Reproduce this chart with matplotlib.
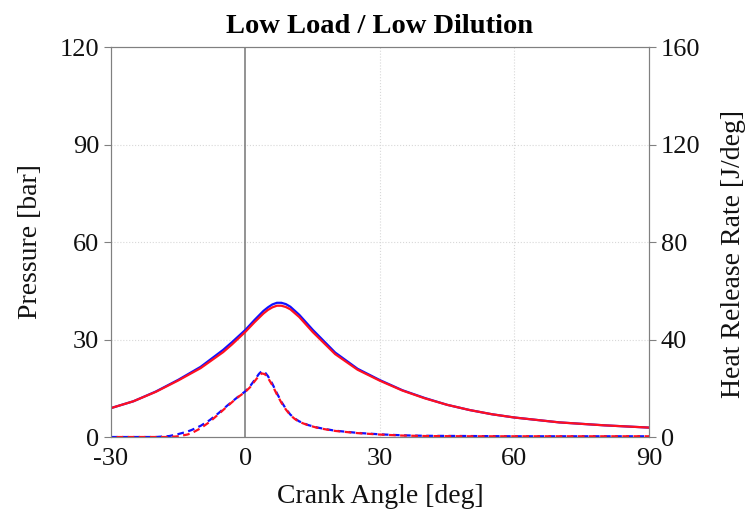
import matplotlib.pyplot as plt

# crank angle grid for pressure traces
ca_p = [-30, -25, -20, -15, -10, -5, -3, 0, 2, 4, 5, 6, 7, 8, 9, 10, 12, 15, 20, 25, 30, 35, 40, 45, 50, 55, 60, 70, 80, 90]
p_blue = [8.9, 11.0, 14.0, 17.6, 21.6, 26.8, 29.2, 33.0, 36.0, 38.8, 39.9, 40.8, 41.3, 41.3, 40.9, 40.1, 37.6, 33.0, 26.0, 21.0, 17.5, 14.4, 12.0, 9.9, 8.3, 7.0, 6.0, 4.5, 3.6, 2.9]
p_red = [8.9, 11.0, 13.9, 17.4, 21.2, 26.1, 28.5, 32.4, 35.3, 38.0, 39.1, 39.9, 40.4, 40.4, 40.0, 39.3, 36.9, 32.3, 25.5, 20.7, 17.3, 14.3, 11.9, 9.9, 8.3, 7.0, 6.0, 4.5, 3.6, 2.9]

# crank angle grid for heat release rate
ca_h = [-30, -20, -17, -15, -13, -12, -10, -8, -6, -4, -2, 0, 1, 2, 3, 3.6, 4.3, 5, 6, 7, 8, 9, 10, 11, 12, 14, 16, 18, 20, 25, 30, 35, 40, 50, 60, 70, 80, 90]
hrr_blue = [0, 0, 0.4, 1.2, 2.2, 2.9, 4.6, 6.9, 9.8, 13.0, 16.0, 18.8, 20.8, 23.3, 25.9, 27.0, 26.6, 25.0, 21.8, 18.0, 14.5, 11.6, 9.2, 7.6, 6.4, 4.9, 3.9, 3.2, 2.6, 1.7, 1.1, 0.7, 0.5, 0.4, 0.3, 0.3, 0.3, 0.3]
hrr_red = [0, 0, 0, 0.3, 1.0, 1.6, 3.6, 6.2, 9.4, 12.7, 15.9, 18.6, 20.4, 22.8, 25.1, 26.1, 25.8, 24.3, 21.2, 17.5, 14.1, 11.3, 9.0, 7.4, 6.2, 4.8, 3.8, 3.1, 2.5, 1.6, 1.0, 0.6, 0.4, 0.3, 0.3, 0.3, 0.3, 0.3]

xticks = [-30, 0, 30, 60, 90]
xticklabels = ['-30', '0', '30', '60', '90']

plt.rcParams['font.family'] = ['Liberation Serif', 'DejaVu Serif']
plt.rcParams['axes.unicode_minus'] = False

fig = plt.figure(figsize=(7.48, 5.23), dpi=100)
ax = fig.add_axes([0.1484, 0.1644, 0.7192, 0.7457])
ax2 = ax.twinx()

gray = '#808080'
ax.axvline(0, color=gray, lw=1.2, zorder=1)
for v in [30, 60]:
    ax.axvline(v, color='#d8d8d8', lw=0.8, ls=':', zorder=0)
for v in [30, 60, 90]:
    ax.axhline(v, color='#d8d8d8', lw=0.8, ls=':', zorder=0)

ax.plot(ca_p, p_blue, color='#1010ff', lw=1.6)
ax.plot(ca_p, p_red, color='#ff1020', lw=1.6)
ax2.plot(ca_h, hrr_blue, color='#1010ff', lw=1.6, linestyle=(0, (3, 2)))
ax2.plot(ca_h, hrr_red, color='#ff1020', lw=1.6, linestyle=(2.5, (3, 2)))

ax.set_xlim(-30, 90)
ax.set_ylim(0, 120)
ax2.set_ylim(0, 160)
ax.set_xticks(xticks)
ax.set_xticklabels(xticklabels)
ax.set_yticks([0, 30, 60, 90, 120])
ax2.set_yticks([0, 40, 80, 120, 160])

for a in (ax, ax2):
    for s in a.spines.values():
        s.set_color(gray)
    a.tick_params(labelsize=19, colors=gray, labelcolor='#111111', length=5, width=0.8)
ax.tick_params(axis='x', length=0, pad=8)

ax.set_xlabel('Crank Angle [deg]', fontsize=20, color='#111111', labelpad=10)
ax.set_ylabel('Pressure [bar]', fontsize=20, color='#111111', labelpad=12)
fig.text(733 / 748, 0.515, 'Heat Release Rate [J/deg]', fontsize=20, color='#111111',
         rotation=90, ha='center', va='center')
ax.set_title('Low Load / Low Dilution', fontsize=20.5, fontweight='bold', pad=10)

fig.savefig('out.png', dpi=100)
